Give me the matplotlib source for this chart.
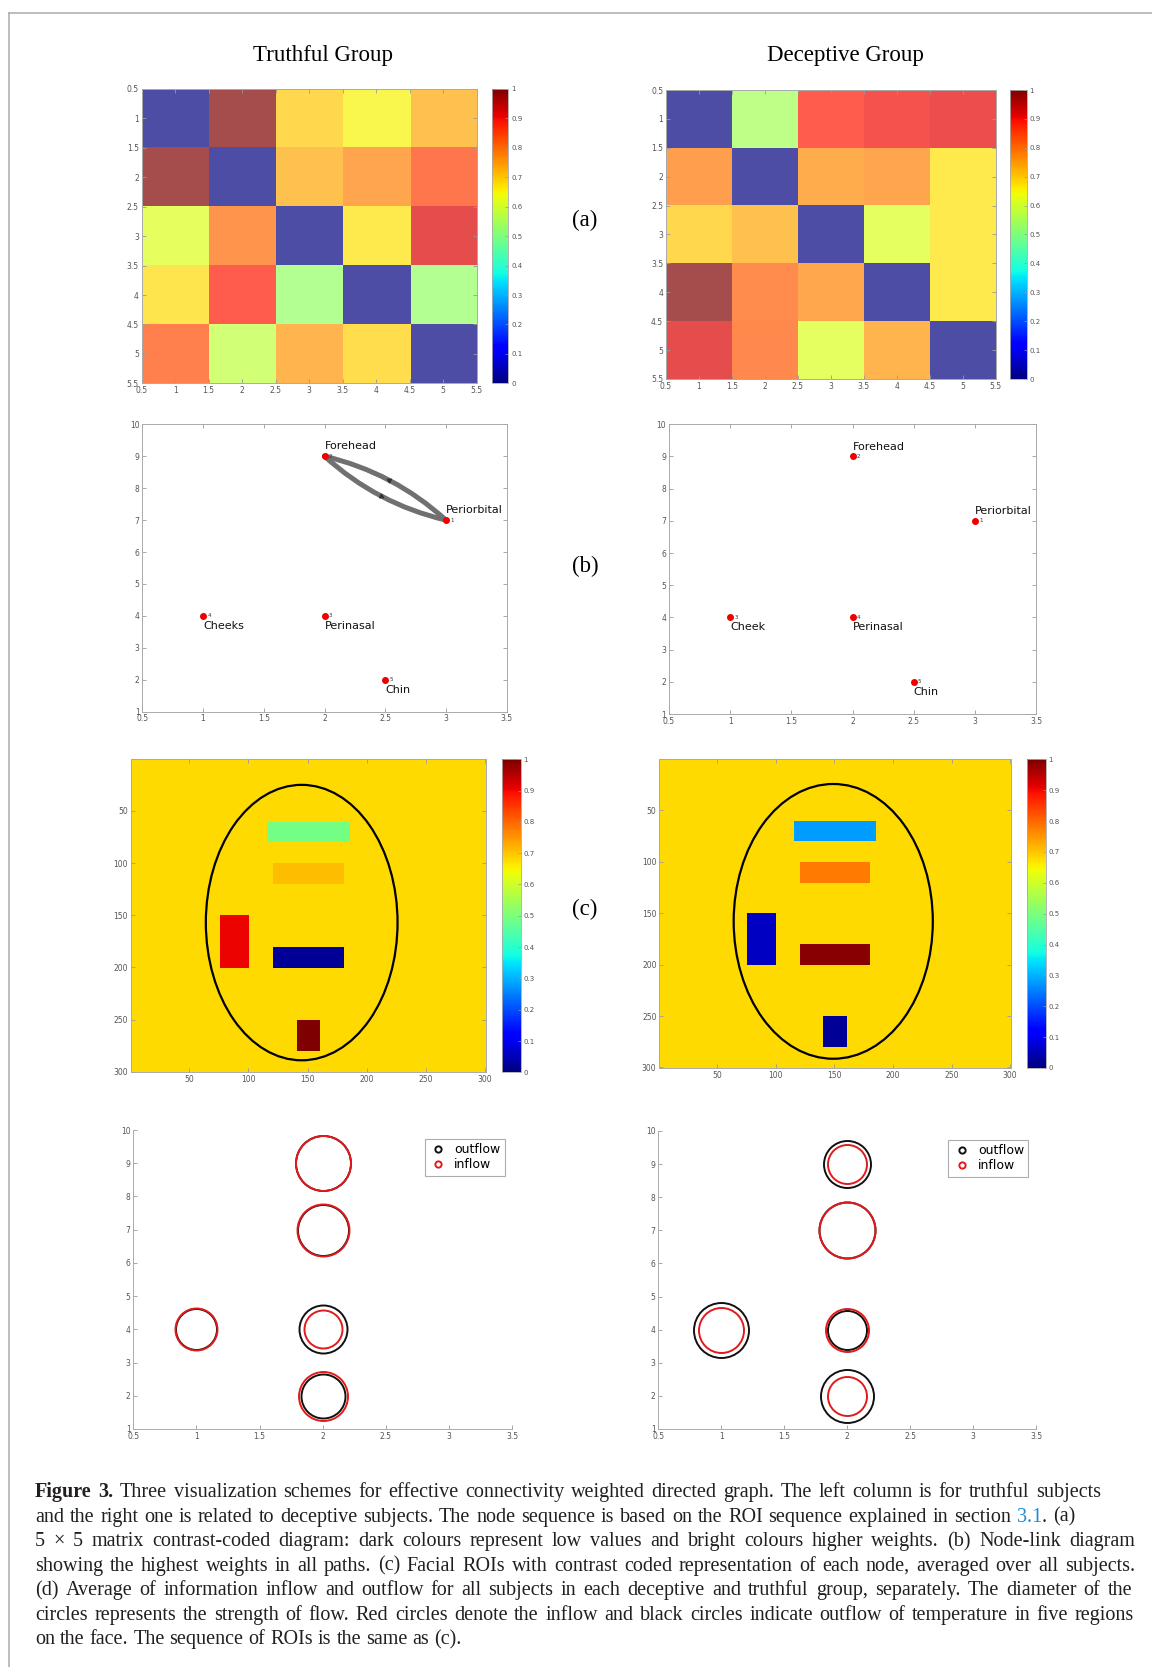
import numpy as np
import matplotlib
matplotlib.use('Agg')
import matplotlib.pyplot as plt
from matplotlib.patches import Ellipse, FancyArrowPatch
from matplotlib.lines import Line2D

W, H = 1152, 1667

# Заголовки колонок
group_titles = ['Truthful Group', 'Deceptive Group']
panel_letters = ['(a)', '(b)', '(c)']

# (a) матрицы связности 5x5
truthful_matrix = [
    [0.00, 1.00, 0.697, 0.651, 0.732],
    [1.00, 0.00, 0.732, 0.775, 0.845],
    [0.62, 0.80, 0.00, 0.67, 0.92],
    [0.678, 0.883, 0.53, 0.00, 0.53],
    [0.829, 0.58, 0.753, 0.689, 0.00],
]
deceptive_matrix = [
    [0.00, 0.548, 0.883, 0.90, 0.907],
    [0.783, 0.00, 0.762, 0.775, 0.67],
    [0.697, 0.732, 0.00, 0.617, 0.67],
    [1.00, 0.813, 0.77, 0.00, 0.67],
    [0.92, 0.82, 0.617, 0.753, 0.00],
]

# (b) узлы графа
nodes_truthful = ['Periorbital', 'Forehead', 'Perinasal', 'Cheeks', 'Chin']
nodes_deceptive = ['Periorbital', 'Forehead', 'Cheek', 'Perinasal', 'Chin']
node_x_truthful = [3, 2, 2, 1, 2.5]
node_x_deceptive = [3, 2, 1, 2, 2.5]
node_y = [7, 9, 4, 4, 2]
edges_truthful = [(1, 2), (2, 1)]
edges_deceptive = []

# (c) ROI на лице: значения по областям и фон
roi_names = ['Forehead', 'Periorbital', 'Cheek', 'Perinasal', 'Chin']
roi_boxes = [(115, 185, 60, 80), (120, 180, 100, 120), (75, 100, 150, 200),
             (120, 180, 180, 200), (140, 160, 250, 280)]
roi_truthful = [0.49, 0.71, 0.903, 0.02, 1.0]
roi_deceptive = [0.28, 0.778, 0.062, 0.99, 0.02]
roi_background = 0.678
face_truthful = (145, 157, 162, 264)   # центр x, центр y, ширина, высота
face_deceptive = (149, 158, 170, 267)

# (d) притоки и оттоки (диаметр кружков)
flow_x = [2, 2, 1, 2, 2]
flow_y = [9, 7, 4, 4, 2]
inflow_truthful = [0.55, 0.52, 0.42, 0.38, 0.49]
outflow_truthful = [0.55, 0.51, 0.41, 0.48, 0.44]
inflow_deceptive = [0.39, 0.56, 0.45, 0.43, 0.39]
outflow_deceptive = [0.47, 0.56, 0.55, 0.39, 0.53]

caption_lines = [
    [('Figure 3.', 'bold'), ('  Three visualization schemes for effective connectivity weighted directed graph. '
                             'The left column is for truthful subjects', 'normal')],
    [('and the right one is related to deceptive subjects. The node sequence is based on the ROI sequence '
      'explained in section ', 'normal'), ('3.1', 'link'), ('. (a)', 'normal')],
    [('5 × 5 matrix contrast-coded diagram: dark colours represent low values and bright colours higher '
      'weights. (b) Node-link diagram', 'normal')],
    [('showing the highest weights in all paths. (c) Facial ROIs with contrast coded representation of '
      'each node, averaged over all subjects.', 'normal')],
    [('(d) Average of information inflow and outflow for all subjects in each deceptive and truthful group, '
      'separately. The diameter of the', 'normal')],
    [('circles represents the strength of flow. Red circles denote the inflow and black circles indicate '
      'outflow of temperature in five regions', 'normal')],
    [('on the face. The sequence of ROIs is the same as (c).', 'normal')],
]
caption_right = [1101, 1075, 1135, 1135, 1132, 1134, None]

TICK_COLOR = '#999999'
LABEL_COLOR = '#555555'


def box(x0, y0, x1, y1):
    # пиксели картинки -> координаты фигуры
    return [x0 / W, 1 - y1 / H, (x1 - x0) / W, (y1 - y0) / H]


def style_axes(ax, full_box=True):
    ax.tick_params(direction='in', length=3, width=0.6, colors=TICK_COLOR,
                   labelcolor=LABEL_COLOR, labelsize=5.5, pad=2,
                   top=full_box, right=full_box)
    for name, sp in ax.spines.items():
        sp.set_color('#aaaaaa')
        sp.set_linewidth(0.7)
        if not full_box and name in ('top', 'right'):
            sp.set_visible(False)


def add_colorbar(fig, im, rect):
    cax = fig.add_axes(rect)
    cb = fig.colorbar(im, cax=cax, ticks=np.arange(0, 1.01, 0.1))
    cb.ax.set_yticklabels([f'{v:g}' for v in np.round(np.arange(0, 1.01, 0.1), 1)])
    cb.ax.tick_params(direction='in', length=2, width=0.5, colors=TICK_COLOR,
                      labelcolor=LABEL_COLOR, labelsize=5, pad=2)
    cb.outline.set_edgecolor('#aaaaaa')
    cb.outline.set_linewidth(0.6)


def plot_matrix(fig, matrix, rect, cbar_rect):
    ax = fig.add_axes(rect)
    ax.imshow(np.array(matrix), cmap='jet', vmin=0, vmax=1, alpha=0.7,
              extent=(0.5, 5.5, 5.5, 0.5), aspect='auto', interpolation='nearest')
    ticks = np.arange(0.5, 5.51, 0.5)
    ax.set_xticks(ticks)
    ax.set_yticks(ticks)
    ax.set_xticklabels([f'{t:g}' for t in ticks])
    ax.set_yticklabels([f'{t:g}' for t in ticks])
    style_axes(ax)
    sm = plt.cm.ScalarMappable(cmap='jet', norm=plt.Normalize(0, 1))
    add_colorbar(fig, sm, cbar_rect)


def plot_graph(fig, names, xs, ys, edges, rect):
    ax = fig.add_axes(rect)
    ax.set_xlim(0.5, 3.5)
    ax.set_ylim(1, 10)
    ax.set_xticks(np.arange(0.5, 3.51, 0.5))
    ax.set_xticklabels([f'{t:g}' for t in np.arange(0.5, 3.51, 0.5)])
    ax.set_yticks(range(1, 11))
    style_axes(ax)
    rad = 0.13
    for a, b in edges:
        pa = (xs[a - 1], ys[a - 1])
        pb = (xs[b - 1], ys[b - 1])
        arr = FancyArrowPatch(pa, pb, connectionstyle=f'arc3,rad={rad}', arrowstyle='-',
                              color='#707070', lw=3.6, shrinkA=0, shrinkB=0, zorder=2)
        ax.add_patch(arr)
        # маленькая стрелка посередине дуги (как в MATLAB)
        da = ax.transData.transform(pa)
        db = ax.transData.transform(pb)
        dx, dy = db - da
        mid = (da + db) / 2 + 0.5 * rad * np.array([dy, -dx])
        mx, my = ax.transData.inverted().transform(mid)
        ang = np.degrees(np.arctan2(dy, dx))
        ax.plot(mx, my, marker=(3, 0, ang - 90), color='#333333', markersize=3.5, zorder=3)
    ax.plot(xs, ys, 'o', color='#ee0000', markersize=4, zorder=4)
    for i, (name, x, y) in enumerate(zip(names, xs, ys)):
        ax.text(x + 0.035, y, str(i + 1), fontsize=4, color='#333333', va='center')
        dy = 0.31 if y > 5 else -0.31
        ax.text(x, y + dy, name, fontsize=8, color='#111111', va='center', ha='left')


def plot_roi(fig, values, face, rect, cbar_rect):
    img = np.full((300, 300), roi_background)
    for (x0, x1, y0, y1), v in zip(roi_boxes, values):
        img[y0:y1, x0:x1] = v
    ax = fig.add_axes(rect)
    im = ax.imshow(img, cmap='jet', vmin=0, vmax=1, aspect='auto', interpolation='nearest',
                   extent=(0.5, 300.5, 300.5, 0.5))
    ax.set_xticks(range(50, 301, 50))
    ax.set_yticks(range(50, 301, 50))
    style_axes(ax)
    cx, cy, w, h = face
    ax.add_patch(Ellipse((cx, cy), w, h, fill=False, edgecolor='black', lw=1.6))
    add_colorbar(fig, im, cbar_rect)


def plot_flow(fig, inflow, outflow, rect):
    ax = fig.add_axes(rect)
    ax.set_xlim(0.5, 3.5)
    ax.set_ylim(1, 10)
    ax.set_xticks(np.arange(0.5, 3.51, 0.5))
    ax.set_xticklabels([f'{t:g}' for t in np.arange(0.5, 3.51, 0.5)])
    ax.set_yticks(range(1, 11))
    style_axes(ax, full_box=False)
    # диаметр кружка пропорционален силе потока
    for x, y, d in zip(flow_x, flow_y, outflow):
        ax.plot(x, y, 'o', mfc='none', mec='#111111', mew=1.4, markersize=d * 72)
    for x, y, d in zip(flow_x, flow_y, inflow):
        ax.plot(x, y, 'o', mfc='none', mec='#e31a1c', mew=1.4, markersize=d * 72)
    handles = [Line2D([], [], ls='none', marker='o', mfc='none', mec='#111111', mew=1.4, markersize=4.5),
               Line2D([], [], ls='none', marker='o', mfc='none', mec='#e31a1c', mew=1.4, markersize=4.5)]
    leg = ax.legend(handles, ['outflow', 'inflow'], loc='upper right', fontsize=9,
                    frameon=True, fancybox=False, borderpad=0.35, labelspacing=0.15,
                    handletextpad=0.6, handlelength=1.4, borderaxespad=0,
                    bbox_to_anchor=(0.98, 0.97))
    leg.get_frame().set_edgecolor('#999999')
    leg.get_frame().set_linewidth(0.8)


def draw_caption(fig):
    renderer = fig.canvas.get_renderer()
    x_left = 35
    size = 14.5
    probe = fig.text(0, 0, 'a a', fontsize=size, family='Liberation Serif')
    w_aa = probe.get_window_extent(renderer).width
    probe.set_text('aa')
    space = w_aa - probe.get_window_extent(renderer).width
    probe.remove()
    for i, line in enumerate(caption_lines):
        y = 1497 + 24.5 * i
        words = []
        prev_space = True
        for text, kind in line:
            parts = text.split(' ')
            for j, p in enumerate(parts):
                if p == '':
                    continue
                glue = (j == 0 and not prev_space and len(words) > 0)
                words.append((p, kind, glue))
            prev_space = text.endswith(' ')
        items = []
        for p, kind, glue in words:
            t = fig.text(0, 1 - y / H, p, fontsize=size, family='Liberation Serif',
                         fontweight='bold' if kind == 'bold' else 'normal',
                         color='#1f8ad6' if kind == 'link' else '#231f20', va='baseline')
            items.append((t, t.get_window_extent(renderer).width, glue))
        total = sum(w for _, w, _ in items)
        n_gaps = sum(1 for _, _, g in items[1:] if not g)
        gap = space
        if caption_right[i] is not None and n_gaps > 0:
            gap = min(max((caption_right[i] - x_left - total) / n_gaps, 0.6 * space), 2.2 * space)
        x = x_left
        for k, (t, w, glue) in enumerate(items):
            if k > 0 and not glue:
                x += gap
            t.set_x(x / W)
            x += w


fig = plt.figure(figsize=(W / 100, H / 100), dpi=100)

# рамка слева и сверху
fig.add_artist(Line2D([9 / W, 9 / W], [0, 1 - 13 / H], color='#b0b0b0', lw=1.2))
fig.add_artist(Line2D([9 / W, 1], [1 - 13 / H, 1 - 13 / H], color='#b0b0b0', lw=1.2))

fig.text(323 / W, 1 - 61 / H, group_titles[0], fontsize=16.5, family='Liberation Serif',
         ha='center', va='baseline')
fig.text(845 / W, 1 - 61 / H, group_titles[1], fontsize=16.5, family='Liberation Serif',
         ha='center', va='baseline')
for letter, yy in zip(panel_letters, [220, 566, 909]):
    fig.text(585 / W, 1 - yy / H, letter, fontsize=16.5, family='Liberation Serif',
             ha='center', va='center')

plot_matrix(fig, truthful_matrix, box(141.7, 89, 476.7, 383.3), box(491.7, 89, 508.3, 383.3))
plot_matrix(fig, deceptive_matrix, box(666, 90, 995.7, 379), box(1010, 90, 1026.7, 379))

plot_graph(fig, nodes_truthful, node_x_truthful, node_y, edges_truthful, box(142.3, 424.3, 506.7, 711.7))
plot_graph(fig, nodes_deceptive, node_x_deceptive, node_y, edges_deceptive, box(669, 424.3, 1036, 714))

plot_roi(fig, roi_truthful, face_truthful, box(130.7, 759.3, 485.7, 1072.3), box(502, 759.3, 520.7, 1072.3))
plot_roi(fig, roi_deceptive, face_deceptive, box(659.3, 759.3, 1010.7, 1068), box(1027, 759.3, 1045.7, 1068))

plot_flow(fig, inflow_truthful, outflow_truthful, box(133.3, 1130, 512.3, 1429))
plot_flow(fig, inflow_deceptive, outflow_deceptive, box(658.3, 1131, 1036, 1429))

draw_caption(fig)

fig.savefig('out.png', dpi=100)
